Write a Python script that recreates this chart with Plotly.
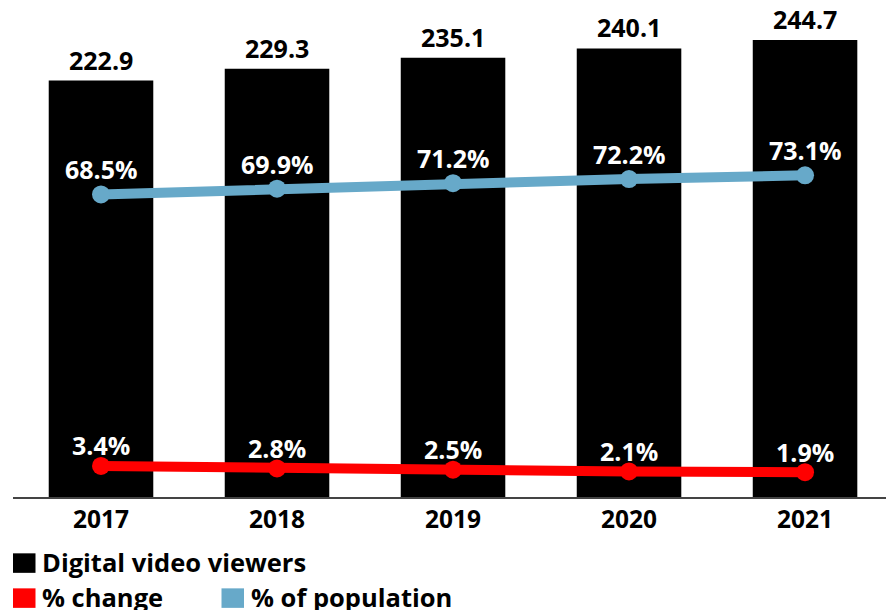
import plotly.graph_objects as go

years = ["2017", "2018", "2019", "2020", "2021"]
viewers = [222.9, 229.3, 235.1, 240.1, 244.7]
pct_change = [3.4, 2.8, 2.5, 2.1, 1.9]
pct_population = [68.5, 69.9, 71.2, 72.2, 73.1]

viewer_labels = [f"{v:.1f}" for v in viewers]
change_labels = [f"{v:.1f}%" for v in pct_change]
pop_labels = [f"{v:.1f}%" for v in pct_population]

FONT = "Open Sans"
BLUE = "#67a9c9"
RED = "#ff0000"
W, H = 886, 610
plot_l, plot_r, plot_t, plot_b = 13, 0, 10, 113.3

fig = go.Figure()
fig.add_trace(go.Bar(
    x=years, y=viewers, marker=dict(color="black", line=dict(width=0)),
    name="Digital video viewers", showlegend=False, hoverinfo="skip",
))
fig.add_trace(go.Scatter(
    x=years, y=pct_population, yaxis="y2", mode="lines+markers",
    line=dict(color=BLUE, width=10), marker=dict(color=BLUE, size=18),
    name="% of population", showlegend=False, hoverinfo="skip",
))
fig.add_trace(go.Scatter(
    x=years, y=pct_change, yaxis="y2", mode="lines+markers",
    line=dict(color=RED, width=10), marker=dict(color=RED, size=18),
    name="% change", showlegend=False, hoverinfo="skip",
))

annotations = []
for i, (v, lab) in enumerate(zip(viewers, viewer_labels)):
    annotations.append(dict(x=i, y=v, xref="x", yref="y", text=lab, showarrow=False,
                            yanchor="middle", yshift=21,
                            font=dict(family=FONT, size=25, color="black", weight="bold")))
for i, (v, lab) in enumerate(zip(pct_population, pop_labels)):
    annotations.append(dict(x=i, y=v, xref="x", yref="y2", text=lab, showarrow=False,
                            yanchor="middle", yshift=25,
                            font=dict(family=FONT, size=25, color="white", weight="bold")))
for i, (v, lab) in enumerate(zip(pct_change, change_labels)):
    annotations.append(dict(x=i, y=v, xref="x", yref="y2", text=lab, showarrow=False,
                            yanchor="middle", yshift=20.5,
                            font=dict(family=FONT, size=25, color="white", weight="bold")))

# legend drawn as paper-space swatches + text
legend_items = [
    ("Digital video viewers", "black", 13, 553),
    ("% change", RED, 13, 588),
    ("% of population", BLUE, 221.5, 588),
]
pw = W - plot_l - plot_r
ph = H - plot_t - plot_b
def px2x(px):
    return (px - plot_l) / pw
def py2y(py):
    return (H - plot_b - py) / ph
shapes = []
for label, col, px, py in legend_items:
    shapes.append(dict(type="rect", xref="paper", yref="paper",
                       x0=px2x(px), x1=px2x(px + 22.5), y0=py2y(py + 19.5), y1=py2y(py),
                       fillcolor=col, line=dict(width=0)))
    annotations.append(dict(xref="paper", yref="paper", x=px2x(px + 27), y=py2y(py + 9),
                            xanchor="left", yanchor="middle", text=label, showarrow=False,
                            font=dict(family=FONT, size=25.5, color="black", weight="bold")))

fig.update_layout(
    width=W, height=H,
    margin=dict(l=plot_l, r=plot_r, t=plot_t, b=plot_b),
    paper_bgcolor="white", plot_bgcolor="white",
    bargap=0.406,
    xaxis=dict(type="category", range=[-0.5, 4.46], showgrid=False, zeroline=False,
               showline=True, linecolor="#444", linewidth=1.5, ticks="",
               tickfont=dict(family=FONT, size=24.5, color="black", weight="bold")),
    yaxis=dict(range=[0, 260.7], visible=False),
    yaxis2=dict(range=[-4.04, 112.73], overlaying="y", visible=False),
    shapes=shapes, annotations=annotations,
    showlegend=False,
)
fig.write_html("out.html", post_script="document.body.style.margin='0';",
               config={"displayModeBar": False})
